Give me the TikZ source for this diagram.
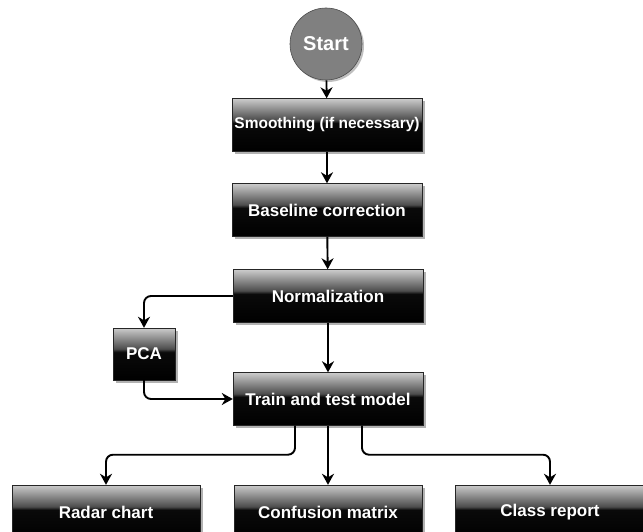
\documentclass[tikz,border=0pt]{standalone}
\usepackage{fontspec}
\setmainfont{Liberation Sans}
\usetikzlibrary{arrows.meta,shadows}
\pgfdeclareverticalshading{glossy}{100bp}{color(0bp)=(black); color(25bp)=(black);
  color(52bp)=(black!96); color(55bp)=(black!70); color(75bp)=(black!20); color(100bp)=(black!20)}
\tikzset{
 flow arrow/.style={-{Stealth[length=11pt,width=12pt,inset=3.5pt]},line width=1.9pt,
   rounded corners=7pt},
 flow box/.style={shading=glossy,draw=black!85,line width=.4pt,inner sep=2pt,
   minimum width=190pt,minimum height=53pt,text=white,
   font=\fontsize{17}{20}\selectfont\bfseries,
   drop shadow={shadow xshift=2.5pt,shadow yshift=-2.5pt,opacity=.3,fill=black}},
 flow start/.style={circle,fill=black!50,draw=black!70,line width=.6pt,
   minimum size=72pt,inner sep=0pt,text=white,
   font=\fontsize{20}{24}\selectfont\bfseries,
   drop shadow={shadow xshift=2pt,shadow yshift=-2pt,opacity=.25,fill=black}}
}

\begin{document}
\begin{tikzpicture}[x=1pt,y=-1pt]
\useasboundingbox (0,0) rectangle (643,532);
\node[flow start] (start) at (326,44) {Start};
\node[flow box,font=\fontsize{15.5}{18}\selectfont\bfseries] (smooth) at (327,125) {Smoothing (if necessary)};
\node[flow box] (baseline) at (327,210) {Baseline correction};
\node[flow box] (norm) at (328,296) {Normalization};
\node[flow box,minimum width=62pt,minimum height=52pt] (pca) at (144,354) {PCA};
\node[flow box] (train) at (328,399) {Train and test model};
\node[flow box,minimum width=188pt,minimum height=54pt] (radar) at (106,512) {Radar chart};
\node[flow box,minimum width=188pt,minimum height=54pt] (confusion) at (328,512) {Confusion matrix};
\node[flow box,minimum width=190pt,minimum height=54pt] (report) at (550,512) {Class report};
\draw[flow arrow] (start) -- (smooth);
\draw[flow arrow] (smooth) -- (baseline);
\draw[flow arrow] (baseline) -- (norm);
\draw[flow arrow] (norm) -- (train);
\draw[flow arrow] (norm.west) -| (pca.north);
\draw[flow arrow] (pca.south) |- (train.west);
\draw[flow arrow] ([xshift=-33pt]train.south) -- ++(0,29) -| (radar.north);
\draw[flow arrow] (train) -- (confusion);
\draw[flow arrow] ([xshift=34pt]train.south) -- ++(0,29) -| (report.north);
\end{tikzpicture}
\end{document}
